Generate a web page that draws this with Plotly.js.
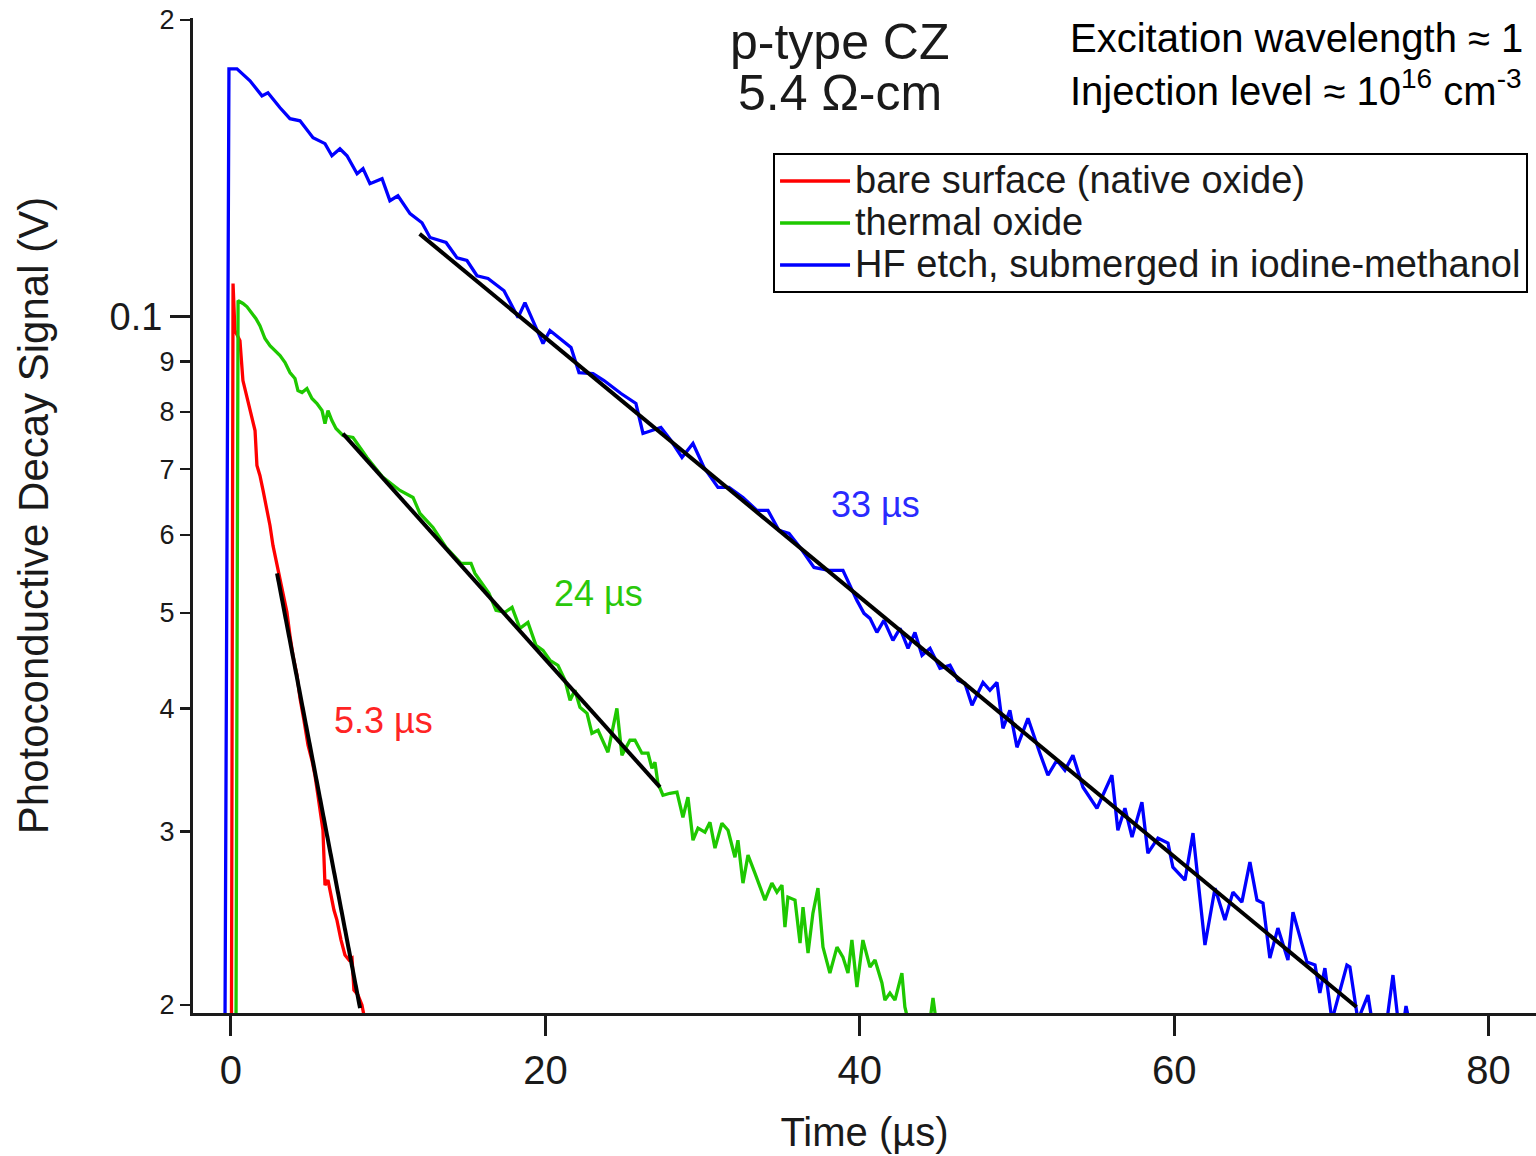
<!DOCTYPE html>
<html><head><meta charset="utf-8">
<script src="https://cdn.plot.ly/plotly-3.0.1.min.js"></script>
<style>html,body{margin:0;padding:0;background:#fff;overflow:hidden}#chart{width:1536px;height:1156px}</style>
</head><body><div id="chart"></div>
<script>
// ---- data (time in µs, signal in V) ----
const seriesNames = ['bare surface (native oxide)', 'thermal oxide', 'HF etch, submerged in iodine-methanol'];

const redT = [0.03,0.13,0.25,0.57,0.76,1.08,1.34,1.53,1.65,1.84,2.04,2.29,2.48,2.67,2.93,3.12,3.37,3.56,3.75,3.94,4.20,4.39,4.64,4.90,5.15,5.34,5.53,5.73,5.85,5.98,6.17,6.36,6.55,6.74,7.00,7.25,7.51,7.70,7.82,8.08,8.33,8.52];
const redV = [0.0193,0.1080,0.09677,0.09453,0.08610,0.08217,0.07934,0.07661,0.07060,0.06897,0.06659,0.06355,0.06136,0.05856,0.05589,0.05422,0.05211,0.05008,0.04746,0.04529,0.04322,0.04096,0.03891,0.03671,0.03544,0.03422,0.03266,0.03117,0.03009,0.02647,0.02678,0.02586,0.02497,0.02439,0.02328,0.02248,0.02222,0.02232,0.02071,0.02047,0.02000,0.0193];

const greenT = [0.32,0.45,0.76,1.02,1.34,1.59,1.84,2.16,2.48,2.80,3.12,3.44,3.75,4.07,4.26,4.52,4.83,5.15,5.47,5.79,5.98,6.17,6.42,6.68,7.12,7.76,8.65,9.67,10.75,11.58,12.02,12.85,13.68,14.63,15.27,15.52,16.41,16.86,17.43,17.88,18.38,18.89,19.40,19.85,20.29,20.80,21.25,21.57,21.88,22.20,22.65,22.96,23.35,23.98,24.55,24.87,25.38,25.70,26.14,26.53,26.78,26.97,27.16,27.48,27.93,28.37,28.75,29.07,29.39,29.71,30.15,30.47,30.79,31.23,31.62,32.06,32.25,32.57,32.89,33.33,33.78,33.97,34.41,34.73,35.05,35.24,35.43,35.88,36.20,36.39,36.71,37.02,37.34,37.66,38.10,38.55,38.93,39.25,39.50,39.82,40.20,40.65,40.97,41.41,41.60,41.92,42.24,42.68,42.87,43.07,44.47,44.66,44.85];
const greenV = [0.0193,0.1038,0.1031,0.1023,0.1007,0.0995,0.0979,0.09498,0.09343,0.09235,0.09128,0.08979,0.08772,0.08651,0.08411,0.08372,0.08451,0.08256,0.08160,0.08027,0.07787,0.08027,0.07842,0.07697,0.07572,0.07537,0.07192,0.06865,0.06659,0.06551,0.06310,0.06108,0.05829,0.05615,0.05615,0.05485,0.05235,0.05031,0.05008,0.05066,0.04824,0.04892,0.04636,0.04582,0.04477,0.04425,0.04272,0.04077,0.04174,0.04011,0.03955,0.03775,0.03801,0.03611,0.04001,0.03586,0.03714,0.03714,0.03603,0.03603,0.03478,0.03527,0.03359,0.03266,0.03281,0.03289,0.03102,0.03251,0.02940,0.03024,0.02996,0.03066,0.02886,0.03059,0.03009,0.02825,0.02940,0.02659,0.02839,0.02722,0.02598,0.02556,0.02659,0.02604,0.02647,0.02400,0.02574,0.02556,0.02312,0.02514,0.02258,0.02479,0.02628,0.02290,0.02155,0.02290,0.02237,0.02155,0.02328,0.02086,0.02328,0.02186,0.02222,0.02106,0.02023,0.02057,0.02023,0.02155,0.01991,0.0193,0.0193,0.02033,0.0193];

const blueT = [-0.38,-0.13,0.06,0.38,1.21,1.97,2.35,3.12,3.75,4.39,5.22,5.98,6.42,6.93,7.38,8.02,8.40,8.84,9.61,10.11,10.62,11.39,12.15,12.66,13.68,14.38,15.01,15.65,16.35,17.37,18.26,18.70,19.85,20.29,21.63,22.14,23.03,23.73,24.81,25.76,26.21,27.35,27.99,28.69,29.39,30.09,30.98,31.68,32.57,33.46,34.16,34.86,35.50,36.20,37.09,38.04,38.93,39.82,40.27,40.65,41.09,41.54,42.11,42.56,43.07,43.51,43.96,44.47,45.10,45.74,46.25,46.69,47.14,47.84,48.28,48.73,49.11,49.55,50.00,50.70,51.46,51.97,52.54,53.05,53.56,54.20,55.09,56.04,56.42,56.87,57.32,57.95,58.33,58.97,59.61,59.92,60.69,61.20,61.96,62.60,63.23,63.74,64.31,64.82,65.27,65.65,66.09,66.60,67.24,67.56,68.45,68.96,69.27,69.59,70.04,70.99,71.18,71.69,72.33,72.58,73.54,73.92,74.24,74.62,74.75,74.94];
const blueV = [0.0193,0.1784,0.1784,0.1784,0.1735,0.1675,0.1687,0.1629,0.1588,0.1580,0.1519,0.1498,0.1456,0.1480,0.1456,0.1396,0.1413,0.1364,0.1380,0.1311,0.1326,0.1272,0.1245,0.1203,0.1189,0.1147,0.1140,0.1100,0.1093,0.1062,0.09975,0.1033,0.09387,0.09677,0.09300,0.08772,0.08752,0.08610,0.08353,0.08160,0.07608,0.07715,0.07484,0.07192,0.07432,0.07026,0.06706,0.06706,0.06551,0.06355,0.06355,0.06065,0.06023,0.05829,0.05563,0.05524,0.05524,0.05150,0.04996,0.04938,0.04779,0.04915,0.04691,0.04824,0.04604,0.04779,0.04529,0.04604,0.04394,0.04425,0.04272,0.04243,0.04030,0.04252,0.04174,0.04252,0.03819,0.03983,0.03653,0.03909,0.03603,0.03422,0.03544,0.03462,0.03586,0.03328,0.03168,0.03422,0.03009,0.03168,0.02961,0.03213,0.02852,0.02954,0.02920,0.02760,0.02678,0.02989,0.02301,0.02628,0.02439,0.02604,0.02544,0.02793,0.02556,0.02538,0.02232,0.02394,0.02222,0.02485,0.02211,0.02196,0.02057,0.02180,0.0193,0.02196,0.02186,0.0193,0.02047,0.0193,0.0193,0.02145,0.0193,0.0193,0.01995,0.0193];

// exponential-fit segments (end points)
const redFitT = [2.93, 8.21],   redFitV = [0.05485, 0.01986];
const greenFitT = [7.12, 27.29], greenFitV = [0.07606, 0.03328];
const blueFitT = [12.0, 71.60],  blueFitV = [0.1213, 0.01991];

// fitted lifetimes labels
const lifeText = ['5.3 µs', '24 µs', '33 µs'];
const lifeX = [9.67, 23.35, 41.03];
const lifeLogY = [-1.4099, -1.2811, -1.1909];

// axis ticks
const xTickVals = [0, 20, 40, 60, 80];
const xTickText = ['0', '20', '40', '60', '80'];
const yTickVals = [0.02, 0.03, 0.04, 0.05, 0.06, 0.07, 0.08, 0.09, 0.2];
const yTickText = ['2', '3', '4', '5', '6', '7', '8', '9', '2'];
const yMajorVals = [0.1];
const yMajorText = ['0.1'];

// ---- styling ----
const FONT = 'Liberation Sans, Arial, Helvetica, sans-serif';
const INK = '#1a1a1a';
const colors = ['#ff0000', '#1ec800', '#0000ff'];
const labelColors = ['#ff2424', '#2ac80a', '#2a2aff'];
const yRange = [-1.70708, -0.69694];
const legendName = s => '<span style="font-size:38px">' + s + '</span>';

const traces = [
  {x: redT, y: redV, type: 'scatter', mode: 'lines', name: legendName(seriesNames[0]), line: {color: colors[0], width: 3.3}},
  {x: greenT, y: greenV, type: 'scatter', mode: 'lines', name: legendName(seriesNames[1]), line: {color: colors[1], width: 3.3}},
  {x: blueT, y: blueV, type: 'scatter', mode: 'lines', name: legendName(seriesNames[2]), line: {color: colors[2], width: 3.3}},
  {x: redFitT, y: redFitV, yaxis: 'y2', type: 'scatter', mode: 'lines', showlegend: false, line: {color: '#000', width: 4}},
  {x: greenFitT, y: greenFitV, yaxis: 'y2', type: 'scatter', mode: 'lines', showlegend: false, line: {color: '#000', width: 4}},
  {x: blueFitT, y: blueFitV, yaxis: 'y2', type: 'scatter', mode: 'lines', showlegend: false, line: {color: '#000', width: 4}}
];

const annotations = lifeText.map((t, i) => ({
  x: lifeX[i], y: lifeLogY[i], xref: 'x', yref: 'y', text: t, showarrow: false,
  font: {family: FONT, size: 36, color: labelColors[i]}
}));
annotations.push(
  {x: 0.4818, y: 0.9759, xref: 'paper', yref: 'paper', text: 'p-type CZ', showarrow: false, xanchor: 'center', yanchor: 'middle', font: {family: FONT, size: 50, color: INK}},
  {x: 0.4818, y: 0.9246, xref: 'paper', yref: 'paper', text: '5.4 Ω-cm', showarrow: false, xanchor: 'center', yanchor: 'middle', font: {family: FONT, size: 50, color: INK}},
  {x: 0.6515, y: 0.9799, xref: 'paper', yref: 'paper', text: 'Excitation wavelength ≈ 1', showarrow: false, xanchor: 'left', yanchor: 'middle', font: {family: FONT, size: 40, color: '#000'}},
  {x: 0.6515, y: 0.9296, xref: 'paper', yref: 'paper', text: 'Injection level ≈ 10<sup>16</sup> cm<sup>-3</sup>', showarrow: false, xanchor: 'left', yanchor: 'middle', font: {family: FONT, size: 40, color: '#000'}}
);

const layout = {
  width: 1536, height: 1156,
  margin: {l: 193, r: 0, t: 18, b: 143, pad: 0},
  paper_bgcolor: '#fff', plot_bgcolor: '#fff',
  font: {family: FONT, color: INK},
  showlegend: true,
  hovermode: false,
  legend: {
    x: 0.4319, y: 0.8643, xanchor: 'left', yanchor: 'top',
    bgcolor: '#fff', bordercolor: '#000', borderwidth: 2,
    font: {family: FONT, size: 30, color: INK}, itemwidth: 70, traceorder: 'normal'
  },
  xaxis: {
    type: 'linear', range: [-2.417, 83.02],
    tickmode: 'array', tickvals: xTickVals, ticktext: xTickText,
    ticks: 'outside', ticklen: 20, tickwidth: 3, tickcolor: INK,
    showline: true, linewidth: 3, linecolor: INK, mirror: false,
    showgrid: false, zeroline: false,
    tickfont: {family: FONT, size: 40, color: INK},
    title: {text: 'Time (µs)', font: {family: FONT, size: 40, color: INK}, standoff: 27},
    automargin: false
  },
  yaxis: {
    type: 'log', range: yRange,
    tickmode: 'array', tickvals: yTickVals, ticktext: yTickText,
    ticks: 'outside', ticklen: 10, tickwidth: 2.5, tickcolor: INK,
    showline: true, linewidth: 3, linecolor: INK,
    showgrid: false, zeroline: false,
    tickfont: {family: FONT, size: 27, color: INK},
    title: {text: 'Photoconductive Decay Signal (V)', font: {family: FONT, size: 42, color: INK}, standoff: 98},
    automargin: false
  },
  yaxis2: {
    type: 'log', range: yRange, overlaying: 'y', side: 'left',
    tickmode: 'array', tickvals: yMajorVals, ticktext: yMajorText,
    ticks: 'outside', ticklen: 22, tickwidth: 2.5, tickcolor: INK,
    showline: false, showgrid: false, zeroline: false,
    tickfont: {family: FONT, size: 38, color: INK},
    automargin: false
  },
  annotations: annotations
};

Plotly.newPlot('chart', traces, layout, {staticPlot: true, displayModeBar: false});
</script>
</body></html>
